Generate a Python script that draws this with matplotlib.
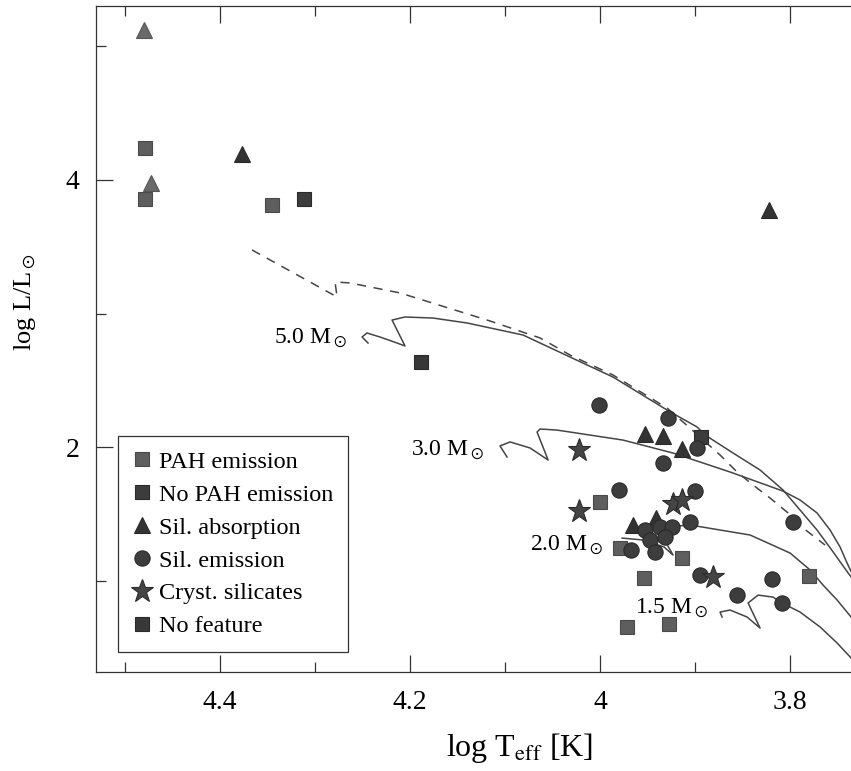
import matplotlib
matplotlib.use("Agg")
import matplotlib.pyplot as plt

plt.rcParams['font.family'] = ['Liberation Serif', 'DejaVu Serif']
plt.rcParams['mathtext.fontset'] = 'stix'

# ---- data: (log Teff, log L) ----
pah_x = [4.479, 4.479, 4.345, 4.000, 3.979, 3.914, 3.954, 3.972, 3.927, 3.780]
pah_y = [4.237, 3.858, 3.810, 1.586, 1.240, 1.166, 1.016, 0.653, 0.674, 1.034]
nopah_x = [4.312, 3.894]
nopah_y = [3.858, 2.077]
nofeat_x = [4.188]
nofeat_y = [2.637]
abs_x = [4.377, 3.822, 3.953, 3.934, 3.914, 3.965, 3.941]
abs_y = [4.195, 3.775, 2.095, 2.085, 1.985, 1.416, 1.466]
abs_pah_x = [4.480, 4.473]
abs_pah_y = [5.120, 3.975]
em_x = [4.001, 3.928, 3.898, 3.934, 3.980, 3.900, 3.905, 3.953, 3.937, 3.924,
        3.947, 3.932, 3.797, 3.967, 3.942, 3.895, 3.819, 3.856, 3.809]
em_y = [2.312, 2.215, 1.990, 1.882, 1.678, 1.670, 1.440, 1.378, 1.400, 1.400,
        1.303, 1.326, 1.440, 1.228, 1.216, 1.041, 1.009, 0.891, 0.834]
cryst_x = [4.022, 4.022, 3.923, 3.914, 3.881]
cryst_y = [1.978, 1.520, 1.573, 1.603, 1.029]

# evolutionary tracks
t50_x = [4.2442, 4.2505, 4.2453, 4.2316, 4.2137, 4.2053, 4.2189, 4.2053, 4.1758, 4.1400,
         4.1053, 4.0811, 4.0316, 3.9863, 3.9295, 3.8979, 3.8895, 3.8600, 3.8316, 3.8074,
         3.7895, 3.7716, 3.7547, 3.7389, 3.7316]
t50_y = [2.779, 2.824, 2.854, 2.824, 2.779, 2.757, 2.951, 2.974, 2.966, 2.929,
         2.876, 2.839, 2.674, 2.524, 2.277, 2.150, 2.090, 1.955, 1.828, 1.678,
         1.528, 1.378, 1.214, 1.056, 0.989]
t30_x = [4.0979, 4.1053, 4.0947, 4.0737, 4.0547, 4.0663, 4.0632, 4.0453, 3.9758, 3.9232,
         3.8632, 3.8074, 3.7895, 3.7716, 3.7579, 3.7474, 3.7400, 3.7316]
t30_y = [1.925, 2.008, 2.038, 1.993, 1.903, 2.112, 2.135, 2.127, 2.052, 1.955,
         1.813, 1.670, 1.603, 1.506, 1.378, 1.251, 1.131, 1.004]
t20_x = [3.9768, 3.9537, 3.9326, 3.9232, 3.9368, 3.9316, 3.9053, 3.8421, 3.8000, 3.7789,
         3.7653, 3.7505, 3.7358, 3.7284]
t20_y = [1.318, 1.303, 1.251, 1.191, 1.363, 1.401, 1.416, 1.341, 1.206, 1.079,
         0.966, 0.854, 0.727, 0.667]
t15_x = [3.8716, 3.8737, 3.8632, 3.8453, 3.8316, 3.8442, 3.8337, 3.8179, 3.8105, 3.7895,
         3.7684, 3.7505, 3.7358, 3.7263]
t15_y = [0.727, 0.764, 0.779, 0.727, 0.644, 0.832, 0.891, 0.876, 0.839, 0.764,
         0.652, 0.532, 0.420, 0.345]
dash_x = [4.3663, 4.2768, 4.2789, 4.2632, 4.2105, 4.1158, 4.0632, 4.0316, 3.9863, 3.9295,
          3.9053, 3.8737, 3.8558, 3.8389, 3.8211, 3.8021, 3.7863, 3.7632]
dash_y = [3.476, 3.124, 3.236, 3.229, 3.154, 2.944, 2.817, 2.689, 2.539, 2.292,
          2.142, 1.940, 1.813, 1.715, 1.618, 1.506, 1.393, 1.266]

mass_labels = ["5.0 M$_\\odot$", "3.0 M$_\\odot$", "2.0 M$_\\odot$", "1.5 M$_\\odot$"]
label_x = [4.266, 4.122, 3.997, 3.886]
label_y = [2.817, 1.978, 1.266, 0.794]

fig = plt.figure(figsize=(8.51, 7.71), dpi=100)
ax = fig.add_axes([0.1128, 0.1284, 0.892, 0.8638])

lc = '#454545'
ax.plot(t50_x, t50_y, color=lc, lw=1.1)
ax.plot(t30_x, t30_y, color=lc, lw=1.1)
ax.plot(t20_x, t20_y, color=lc, lw=1.1)
ax.plot(t15_x, t15_y, color=lc, lw=1.1)
ax.plot(dash_x, dash_y, color=lc, lw=1.1, linestyle=(0, (6, 5)))

for s, x, y in zip(mass_labels, label_x, label_y):
    ax.text(x, y, s, ha='right', va='center', fontsize=17)

ec = '#2a2a2a'
ax.plot(pah_x, pah_y, 's', ms=9.5, mfc='#5e5e5e', mec='#4a4a4a', mew=0.8, ls='none', label='PAH emission')
ax.plot(nopah_x, nopah_y, 's', ms=9.5, mfc='#3c3c3c', mec=ec, mew=0.8, ls='none', label='No PAH emission')
ax.plot(abs_x, abs_y, '^', ms=12, mfc='#333333', mec=ec, mew=0.8, ls='none', label='Sil. absorption')
ax.plot(abs_pah_x, abs_pah_y, '^', ms=11, mfc='#6a6a6a', mec='#555555', mew=0.8, ls='none', label='_nolegend_')
ax.plot(em_x, em_y, 'o', ms=11, mfc='#3d3d3d', mec=ec, mew=0.8, ls='none', label='Sil. emission')
ax.plot(cryst_x, cryst_y, '*', ms=17, mfc='#454545', mec=ec, mew=0.8, ls='none', label='Cryst. silicates')
ax.plot(nofeat_x, nofeat_y, 's', ms=9.5, mfc='#383838', mec=ec, mew=0.8, ls='none', label='No feature')

ax.set_xlim(4.5305, 3.7316)
ax.set_ylim(0.315, 5.303)
ax.set_xticks([4.4, 4.2, 4.0, 3.8])
ax.set_xticklabels(['4.4', '4.2', '4', '3.8'])
ax.set_xticks([4.5, 4.3, 4.1, 3.9], minor=True)
ax.set_yticks([2, 4])
ax.set_yticks([1, 3, 5], minor=True)
ax.tick_params(which='both', direction='in', top=True, right=False, labelsize=20, width=0.9, color='#333333')
ax.tick_params(axis='x', which='major', length=12, pad=13)
ax.tick_params(axis='y', which='major', length=12, pad=12)
ax.tick_params(which='minor', length=7)
ax.spines['right'].set_visible(False)
for sp in ['left', 'top', 'bottom']:
    ax.spines[sp].set_linewidth(0.9)
    ax.spines[sp].set_color('#333333')

ax.set_xlabel('log T$_{\\rm eff}$ [K]', fontsize=23)
ax.xaxis.set_label_coords(0.5586, -0.088)
ax.set_ylabel('log L/L$_\\odot$', fontsize=19)
ax.yaxis.set_label_coords(-0.076, 0.5556)

leg = ax.legend(loc='lower left', bbox_to_anchor=(0.029, 0.03), borderaxespad=0,
                fontsize=17.5, labelspacing=0.45, handletextpad=0.29, handlelength=0.8,
                borderpad=0.6, fancybox=False, framealpha=1, edgecolor='#333333')
leg.get_frame().set_linewidth(0.9)

fig.savefig('out.png', dpi=100)
